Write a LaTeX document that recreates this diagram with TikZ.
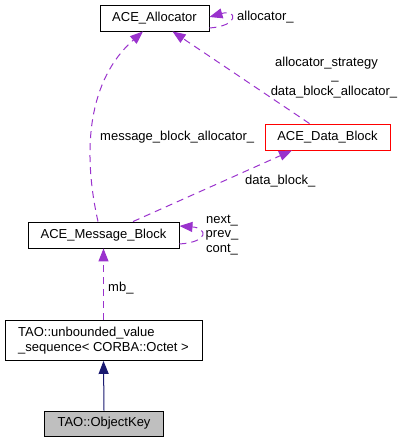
\documentclass[tikz,border=0pt]{standalone}
\usepackage{fontspec}
\setmainfont{Liberation Sans}
\usetikzlibrary{arrows.meta}
\definecolor{deppurple}{HTML}{9A32CD}
\definecolor{inhnavy}{HTML}{191970}
\definecolor{curgray}{HTML}{BFBFBF}
\begin{document}
\begin{tikzpicture}[x=1pt,y=-1pt,
  font=\fontsize{13}{14.5}\selectfont,
  cls/.style={draw=black, line width=0.9pt, inner sep=0pt, minimum height=26pt},
  dep/.style={draw=deppurple, line width=1pt, dash pattern=on 7pt off 5pt,
    -{Triangle[length=13pt,width=10pt,fill=deppurple]}},
  inh/.style={draw=inhnavy, line width=1pt,
    -{Triangle[length=13pt,width=10pt,fill=inhnavy]}},
  lbl/.style={inner sep=0pt, anchor=west},
  blbl/.style={inner sep=0pt, anchor=base}]
\useasboundingbox (0,0) rectangle (403,443);

\node[cls, minimum width=109pt] (alloc) at (154.5,18) {ACE\_Allocator};
\node[cls, draw=red, minimum width=125pt] (dblock) at (327.5,137) {ACE\_Data\_Block};
\node[cls, minimum width=151pt] (mblock) at (103.5,235) {ACE\_Message\_Block};
\node[cls, minimum width=197pt, minimum height=40pt, align=left] (seq) at (103.5,340.5)
  {TAO::unbounded\_value\\\_sequence< CORBA::Octet >};
\node[cls, fill=curgray, minimum width=119pt, minimum height=25pt] (okey) at (104,423.5) {TAO::ObjectKey};

% allocator self loop
\draw[dep] ([yshift=-10pt]alloc.east) .. controls +(30pt,2pt) and +(28pt,8pt) .. ([yshift=1pt]alloc.east);
\node[lbl] (lalloc) at (237,17) {allocator\_};

% message block -> allocator
\draw[dep] ([xshift=-5.5pt]mblock.north) .. controls (82,150) and (88,80) .. ([xshift=-11.5pt]alloc.south);
\node[lbl] (lmba) at (100,137) {message\_block\_allocator\_};

% data block -> allocator
\draw[dep] ([xshift=-18pt]dblock.north) -- ([xshift=18pt]alloc.south);
\node[blbl] (las1) at (326.5,66.5) {allocator\_strategy};
\node[blbl] (las2) at (335,79.5) {\_};
\node[blbl] (las3) at (334,95.5) {data\_block\_allocator\_};

% message block -> data block
\draw[dep] ([xshift=29.5pt]mblock.north) -- ([xshift=-35.5pt]dblock.south);
\node[lbl] (ldb) at (245,181) {data\_block\_};

% message block self loop
\draw[dep] ([yshift=-9pt]mblock.east) .. controls +(30pt,2pt) and +(28pt,-2pt) .. ([yshift=9pt]mblock.east);
\node[inner sep=0pt, align=center] (lnpc) at (222,235) {next\_\\prev\_\\cont\_};

% sequence -> message block
\draw[dep] (seq.north) -- (mblock.south);
\node[lbl] (lmb) at (108,288) {mb\_};

% inheritance
\draw[inh] (okey.north) -- (seq.south);
\end{tikzpicture}
\end{document}
